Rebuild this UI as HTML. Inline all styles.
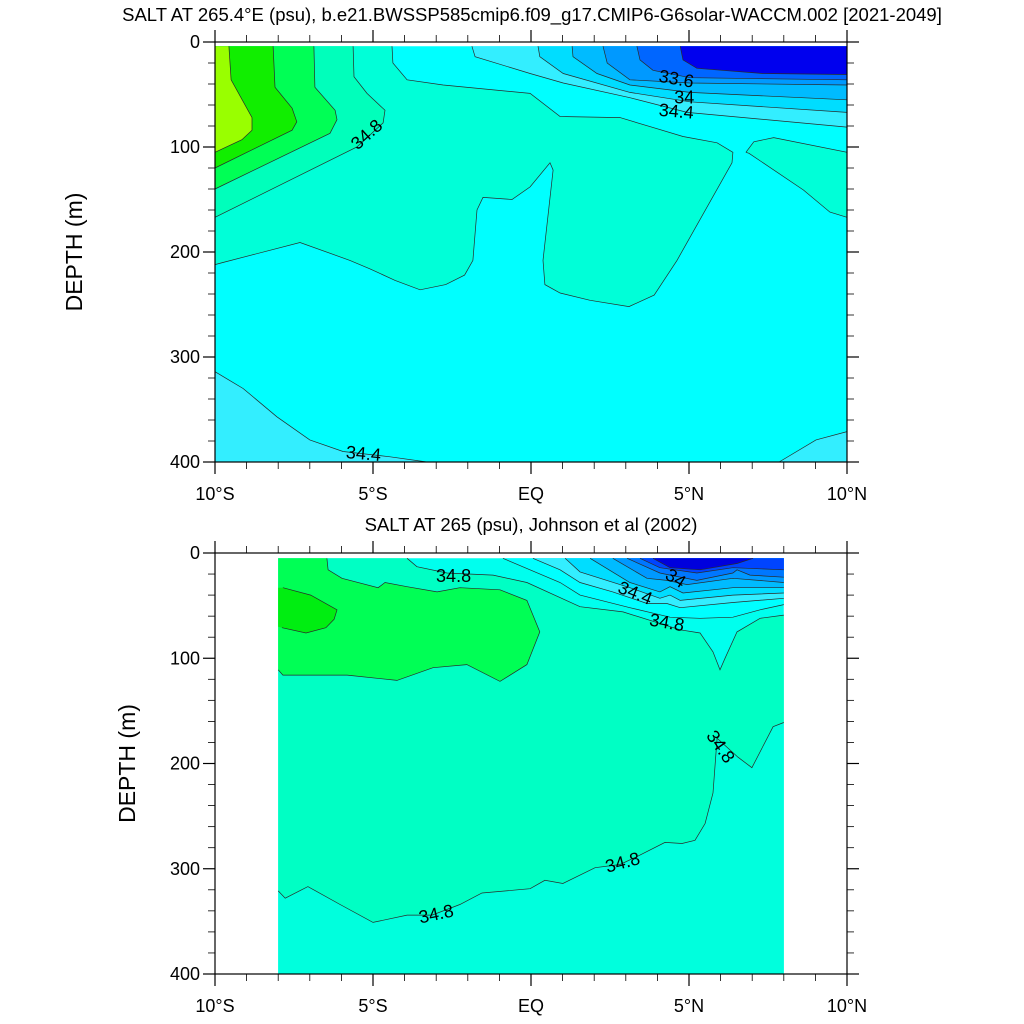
<!DOCTYPE html>
<html><head><meta charset="utf-8"><style>
body{margin:0;background:#fff;}
svg{display:block;font-family:"Liberation Sans",sans-serif;}
</style></head><body>
<svg id="chart" width="1024" height="1024" viewBox="0 0 1024 1024"></svg>
<script>
// ---------- data (lat in degrees, negative = S; depth in m) ----------
const xTickLabels = ["10°S","5°S","EQ","5°N","10°N"];
const xTickLats = [-10,-5,0,5,10];
const yTickLabels = ["0","100","200","300","400"];
const yTickDepths = [0,100,200,300,400];

// top panel contour regions
const topAq2 = [[-4.4,4],[-4.37,20],[-3.92,36],[-2.78,41],[-0.03,49],[0.92,71],[2.82,72],[4.81,90],[5.89,96],[6.39,105],[6.36,115],[4.62,208],[3.9,241],[3.1,252],[1.87,246],[0.92,239],[0.44,231],[0.38,208],[0.7,122],[0.6,115],[-0.03,138],[-0.6,150],[-1.52,148],[-1.71,160],[-1.84,208],[-2.1,222],[-2.7,231],[-3.51,236],[-4.3,227],[-5.1,216],[-5.73,208],[-7.31,191],[-9.75,210],[-10,212]];
const topAqua = [[-5.63,4],[-5.6,33],[-5.19,49],[-4.62,65],[-4.68,77],[-5.51,100],[-10,167]];
const topGreen2 = [[-6.87,4],[-6.84,43],[-6.2,65],[-6.14,74],[-6.36,87],[-10,140]];
const topGreen = [[-8.16,4],[-8.1,43],[-7.56,63],[-7.41,76],[-7.56,84],[-10,120]];
const topLime = [[-9.56,4],[-9.49,36],[-8.83,72],[-8.83,84],[-9.15,93],[-10,105]];
const topRightBlob = [[6.8,105],[7.05,95],[7.68,91],[10,105],[10,167],[9.46,162],[8.62,141],[6.9,106]];
const topLowLeft = [[-10,314],[-9.11,330],[-8.04,357],[-7.0,379],[-5.95,390],[-4.46,395],[-3.29,400]];
const topLowRight = [[7.85,400],[9.02,379],[10,371]];
const topA = [[-1.87,4],[-1.77,14],[-0.03,30],[1.02,39],[3.13,53],[4.94,67],[10,81]];
const topB = [[0.22,4],[0.28,14],[1.02,30],[3.13,48],[5.03,57],[10,67]];
const topC = [[1.3,4],[1.33,14],[2.09,30],[3.13,41],[5.03,48],[10,55]];
const topD = [[2.28,4],[2.41,20],[3.13,36],[5.03,39],[10,41]];
const topE = [[3.35,4],[3.45,17],[3.86,27],[5.03,34],[10,36]];
const topF = [[4.72,4],[4.81,17],[5.25,25],[7.34,30],[10,31]];

// bottom panel contour regions
const botLine1 = [[-3.92,5],[-3.61,13],[-2.66,19],[-1.2,21],[-0.13,28],[1.55,51],[2.91,56],[4.72,73],[5.35,76],[5.76,94],[5.98,111],[6.14,100],[6.52,75],[7.25,62],[8,59]];
const botLine2 = [[-0.89,5],[0.92,28],[1.55,40],[3.13,52],[4.4,61],[5.35,62],[6.39,61],[7.25,54],[8,49]];
const botLine3 = [[0.06,5],[0.92,16],[1.55,28],[2.59,37],[3.67,48],[4.3,48],[4.72,52],[6.39,47],[8,43]];
const botLine4 = [[1.08,5],[1.55,18],[3.13,33],[4.08,43],[4.4,40],[4.72,45],[6.39,40],[8,38]];
const botLine5 = [[1.87,5],[3.13,28],[4.08,37],[4.4,32],[4.81,38],[6.39,33],[8,33]];
const botLine6 = [[2.59,5],[3.67,24],[4.3,26],[4.94,30],[6.39,24],[8,28]];
const botLine7 = [[3.04,5],[4.08,19],[4.4,21],[5.25,26],[6.39,19],[6.52,16],[6.93,21],[8,23]];
const botLine8 = [[3.45,5],[4.08,14],[5.25,19],[6.39,14],[8,16]];
const botLine9 = [[3.86,5],[4.4,14],[5.35,16],[6.52,10],[7.03,5]];
const botLower = [[-8,321],[-7.78,328],[-7.06,317],[-6.04,334],[-5,351],[-3.92,344],[-3.13,344],[-2.25,334],[-1.55,323],[-0.03,319],[0.44,311],[1.01,314],[2.03,299],[2.82,296],[3.45,287],[4.24,275],[4.78,276],[5.19,273],[5.51,257],[5.76,228],[5.89,176],[6.55,194],[6.99,204],[7.66,165],[8,161]];
const botGreen = [[-8,5],[-6.46,5],[-6.42,16],[-5.98,24],[-4.84,33],[-4.62,28],[-3.92,32],[-2.97,37],[-2.25,33],[-0.98,35],[-0.13,45],[0.28,75],[-0.13,106],[-0.98,122],[-2.03,106],[-3.1,109],[-4.24,121],[-5.82,116],[-7.85,116],[-8,111]];
const botDark = [[-8,33],[-7.85,33],[-6.97,40],[-6.14,54],[-6.23,63],[-6.49,71],[-7.12,76],[-7.88,71],[-8,70]];

const topLabels = [["34.8",-5.2,88,-42],["33.6",4.6,35,10],["34",4.85,53,0],["34.4",4.6,66,5],["34.4",-5.3,392,5]];
const botLabels = [["34.8",-2.45,22,0],["34",4.58,24,32],["34.4",3.3,38,22],["34.8",4.3,66,10],["34.8",-3.0,343,-12],["34.8",2.9,294,-15],["34.8",6.0,184,55]];

// ---------- drawing ----------
const NS="http://www.w3.org/2000/svg";
const svg=document.getElementById('chart');
function el(tag,attrs,parent){const e=document.createElementNS(NS,tag);for(const k in attrs)e.setAttribute(k,attrs[k]);(parent||svg).appendChild(e);return e;}

function makePanel(p){
  const x=lat=>p.x0+(lat+10)/20*(p.x1-p.x0);
  const y=d=>p.y0+d/400*(p.y1-p.y0);
  const g=el('g',{});
  
  
  const pts=a=>a.map(q=>x(q[0]).toFixed(1)+','+y(q[1]).toFixed(1)).join(' ');
  p.fill=function(arr,extra,color,name){
    const poly=el('polygon',{points:pts(arr.concat(extra)),fill:color},g);
    
    
  };
  p.line=function(arr,name){
    const l=el('polyline',{points:pts(arr),fill:'none',stroke:'#2a2a2a','stroke-width':0.7},g);
    
    
  };
  p.label=function(L,i){
    const t=el('text',{x:x(L[1]),y:y(L[2]),'font-size':18,'text-anchor':'middle','dominant-baseline':'central',transform:`rotate(${L[3]} ${x(L[1])} ${y(L[2])})`},g);
    t.textContent=L[0];
    
    
  };
  p.g=g;p.x=x;p.y=y;
  return p;
}

function axes(p){
  const g=el('g',{});
  
  
  el('rect',{x:p.x0,y:p.y0,width:p.x1-p.x0,height:p.y1-p.y0,fill:'none',stroke:'#000','stroke-width':1.2},g);
  for(let lat=-10;lat<=10;lat++){
    const maj=lat%5===0, L=maj?12:7, xx=p.x(lat);
    el('line',{x1:xx,x2:xx,y1:p.y1,y2:p.y1+L,stroke:'#000','stroke-width':maj?1.2:0.8},g);
    el('line',{x1:xx,x2:xx,y1:p.y0,y2:p.y0-L,stroke:'#000','stroke-width':maj?1.2:0.8},g);
  }
  for(let d=0;d<=400;d+=20){
    const maj=d%100===0, L=maj?12:7, yy=p.y(d);
    el('line',{x1:p.x0,x2:p.x0-L,y1:yy,y2:yy,stroke:'#000','stroke-width':maj?1.2:0.8},g);
    el('line',{x1:p.x1,x2:p.x1+L,y1:yy,y2:yy,stroke:'#000','stroke-width':maj?1.2:0.8},g);
  }
  xTickLats.forEach((lat,i)=>{
    const t=el('text',{x:p.x(lat),y:p.y1+38,'font-size':18,'text-anchor':'middle'},g);
    t.textContent=xTickLabels[i];
    
    
  });
  yTickDepths.forEach((d,i)=>{
    const t=el('text',{x:p.x0-15,y:p.y(d)+6,'font-size':18,'text-anchor':'end'},g);
    t.textContent=yTickLabels[i];
    
    
  });
  const tx=p.titleX, ty=(p.y0+p.y1)/2;
  const yt=el('text',{x:tx,y:ty,'font-size':23,'text-anchor':'middle',transform:`rotate(-90 ${tx} ${ty})`},g);
  yt.textContent='DEPTH (m)';
  
  
  const tt=el('text',{x:p.tcx,y:p.tcy,'font-size':18.5,'text-anchor':'middle'},g);
  tt.textContent=p.title;
  
  
}

// ---- top panel ----
const T=makePanel({name:'model-panel',x0:215,x1:847,y0:42,y1:462,titleX:82,tcx:532,tcy:21,
  title:'SALT AT 265.4°E (psu), b.e21.BWSSP585cmip6.f09_g17.CMIP6-G6solar-WACCM.002 [2021-2049]'});
T.fill([[-10,4],[10,4],[10,400],[-10,400]],[],'#00ffff','cyan-background');
T.fill(topAq2,[[-10,4]],'#00ffd8','region-34-8-main');
T.fill(topRightBlob,[],'#00ffd8','region-right-blob');
T.fill(topAqua,[[-10,4]],'#00ffbb','region-aqua');
T.fill(topGreen2,[[-10,4]],'#00ff55','region-green2');
T.fill(topGreen,[[-10,4]],'#11ee00','region-green');
T.fill(topLime,[[-10,4]],'#99ff00','region-lime');
T.fill(topLowLeft,[[-10,400]],'#33eeff','region-low-left');
T.fill(topLowRight,[[10,400]],'#33eeff','region-low-right');
T.fill(topA,[[10,4]],'#33eeff','band-a');
T.fill(topB,[[10,4]],'#00ddff','band-b');
T.fill(topC,[[10,4]],'#00bbff','band-c');
T.fill(topD,[[10,4]],'#0099ff','band-d');
T.fill(topE,[[10,4]],'#0066ff','band-e');
T.fill(topF,[[10,4]],'#0000ee','band-f');
[topAq2,topRightBlob.concat([topRightBlob[0]]),topAqua,topGreen2,topGreen,topLime,topLowLeft,topLowRight,topA,topB,topC,topD,topE,topF].forEach(a=>T.line(a,'contour-line'));
topLabels.forEach((L,i)=>T.label(L,i));
axes(T);

// ---- bottom panel ----
const B=makePanel({name:'obs-panel',x0:215,x1:847,y0:553,y1:974,titleX:135,tcx:531,tcy:531,
  title:'SALT AT 265 (psu), Johnson et al (2002)'});
B.fill([[-8,5],[8,5],[8,400],[-8,400]],[],'#00ffee','band-34-8-34-6');
B.fill(botLine2,[[8,5]],'#00ffff','band-2');
B.fill(botLine3,[[8,5]],'#33eeff','band-3');
B.fill(botLine4,[[8,5]],'#00ddff','band-4');
B.fill(botLine5,[[8,5]],'#00bbff','band-5');
B.fill(botLine6,[[8,5]],'#0099ff','band-6');
B.fill(botLine7,[[8,5]],'#0077ff','band-7');
B.fill(botLine8,[[8,5]],'#0044ff','band-8');
B.fill(botLine9,[],'#0000dd','band-9');
B.fill(botLine1,botLower.slice().reverse().concat([[-8,5]]),'#00ffc4','region-main');
B.fill(botLower,[[8,400],[-8,400]],'#00ffdd','region-deep');
B.fill(botGreen,[],'#00ff55','region-green');
B.fill(botDark,[],'#00ee11','region-dark-green');
[botLine1,botLine2,botLine3,botLine4,botLine5,botLine6,botLine7,botLine8,botLine9,botLower,botGreen.slice(1),botDark.slice(1,-1)].forEach(a=>B.line(a,'contour-line'));
botLabels.forEach((L,i)=>B.label(L,i));
axes(B);
</script>
</body></html>
